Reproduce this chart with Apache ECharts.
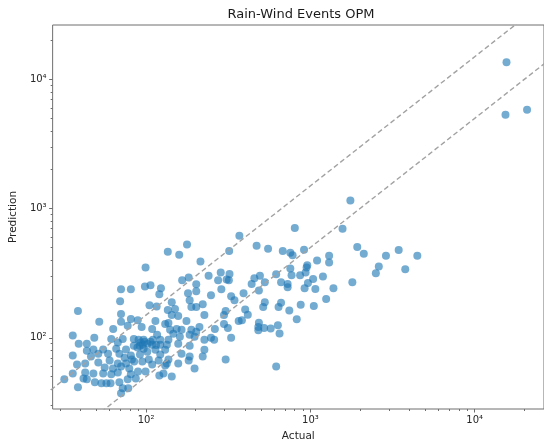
<!DOCTYPE html>
<html>
<head>
<meta charset="utf-8">
<script src="https://cdn.jsdelivr.net/npm/echarts@6/dist/echarts.min.js"></script>
<style>
html,body{margin:0;padding:0;background:#fff;}
#chart{width:544px;height:447px;}
</style>
</head>
<body>
<div id="chart"></div>
<script>
// ---- data ----
const actual = [
  69.5,38.5,70.4,51.9,70.4,80.8,77.3,89.0,94.0,63.1,
  35.8,43.6,48.4,38.9,61.4,67.3,72.1,84.2,92.7,96.6,
  102,43.6,47.8,54.8,65.8,75.5,88.6,35.8,46.2,51.2,
  58.7,68.8,80.8,91.8,101.7,42.6,51.2,60.0,67.3,75.5,
  84.6,94.9,38.0,56.0,62.9,70.4,79.0,35.8,42.6,47.8,
  54.8,61.4,67.3,80.8,89.3,31.8,41.6,48.8,53.5,57.4,
  60.8,68.8,77.3,86.6,38.5,43.6,72.1,77.9,70.4,
  91.5,96.6,106.4,84.2,97.8,95.5,90,110,115,74,82,
  143.3,184.2,188.6,221.2,202,135.6,150,156.9,143.3,226.4,
  305,298,345.1,366,114,130.7,136.8,176.1,298,314.7,
  108.9,140,153.5,164.4,188.6,202,211.3,262.2,116.7,146.5,
  160.6,184.2,197.3,226.4,248.3,259.7,329.3,122,136.8,108.9,
  122,133.8,156.9,184.2,114,130.7,226.4,164.4,184.2,221.2,
  122,103.9,119.2,136.8,156.9,181.7,305,108.9,130.7,133.8,
  99.3,120.4,127.6,143.3,197.3,
  99.3,98.4,106.4,70.4,80.8,104.9,116,369.6,177.5,
  135.6,159.1,320.4,214.3,284.7,309.2,319.1,274.4,240.2,181.7,
  165.8,202,123.2,287.1,180,202,120.4,248.3,329.3,392,322,
  803.9,470.6,552.6,679,754.8,779,914.7,1300,1300,1098,
  957,948,754.8,768,866,935,1192,1039,966,922,
  1072,1381,619,493,456,528,439,663,727,727,
  486,528,516,663,640,873,1049,1247,744,826,
  401,416,383,486,482,482,523,573.5,634,649,
  619,
  1751,1569,1928,2113,2883,3446,4474,2608,2502,3778,1800,
  15610,15390,20820
];
const prediction = [
  192,161,153,133,133,140,124,137,121,117,
  104,90,100,90,98,92,98,98,92,96.5,
  90,79.5,81,81,82.4,81,84,72.8,71.5,75.4,
  75.4,75.4,72.8,74.1,78.1,63.2,64.3,66.6,63.2,63.2,
  65.5,65.5,62.1,58.9,57.9,59.9,57.9,53.0,53.9,53.0,
  53.0,52.1,53.9,52.1,54.9,47.7,48.5,45.2,44.4,44.4,
  44.4,45.2,47.7,48.5,41.4,47.7,40.7,40.7,37.2,
  86.8,82.4,93.2,86.8,93.2,88.4,96.5,96.5,88,70,68,
  188.7,195.6,172.8,182.2,172.8,163.9,166.8,147.5,150.1,150.1,
  161,150.1,195.6,135,135,128,130.3,135,128,119.3,
  117.2,115.2,117.2,115.2,115.2,111.2,121.4,117.2,105.4,107.3,
  101.8,105.4,101.8,96.5,100,96.5,100,96.5,96.5,88.4,
  88.4,88.4,89.9,86.8,80.9,80.9,80.9,75.4,71.5,71.5,
  74.1,67.8,66.6,67.8,63.2,66.6,67.8,62.1,61,63.2,
  54.9,51.1,53,50.2,57.9,
  350,249,254.8,237.4,237.4,179,175,616,528,
  464,440,470,389,320.5,283.3,278.3,278.3,302,293.5,
  278.3,259.3,241.7,237.4,221.2,229.2,217.4,213.6,209.9,221.2,312,
  709,516,489.5,470,456,435,481,432.5,382,396,
  364.5,350,344,305.6,305.6,320.5,298.7,284.8,265.3,241.7,
  238.7,241.7,311,302.4,288.4,268.6,260.7,268.6,260.7,246,
  232,188.7,172.8,186.4,172.8,180,175.9,200,163,139,
  165.9,150.9,136.6,131,121.4,114.6,119.3,117.8,125.1,107.9,
  59.9,
  1156,700,504,448,432.5,478,432.5,356,316.5,339.6,268.6,
  13570,5325,5818
];
const majorTicks = [100, 1000, 10000];
const minorTicks = [30,40,50,60,70,80,90,200,300,400,500,600,700,800,900,
                    2000,3000,4000,5000,6000,7000,8000,9000,20000];
const refRatios = [1.5, 0.5];          // dashed guide lines y = r * x
const refSpan = [10, 100000];          // x extent of the guide lines (clipped)
const xRange = [27, 26400];
const yRange = [28.1, 26400];

// ---- chart ----
const sup = {'0':'⁰','1':'¹','2':'²','3':'³','4':'⁴','5':'⁵'};
const fmt = v => '10' + String(Math.round(Math.log10(v))).split('').map(c => sup[c]).join('');

const points = actual.map((a, i) => [a, prediction[i]]);
const frameColor = '#6e6e6e';
const font = 'DejaVu Sans';

function mkAxis(isX, major) {
  const r = isX ? xRange : yRange;
  const ax = {
    type: 'log', logBase: 10, min: r[0], max: r[1],
    position: isX ? 'bottom' : 'left',
    splitLine: {show: false},
    axisLine: {show: false},
    axisTick: {show: true, inside: false, length: major ? 3.5 : 2,
               customValues: major ? majorTicks : minorTicks,
               lineStyle: {color: frameColor, width: 1}},
    axisLabel: major ? {show: true, customValues: majorTicks, formatter: fmt,
               fontSize: 10, color: '#262626', fontFamily: font, margin: 6}
             : {show: false}
  };
  if (major) {
    ax.name = isX ? 'Actual' : 'Prediction';
    ax.nameLocation = 'middle';
    ax.nameGap = isX ? 22 : 29;
    ax.nameTextStyle = {fontSize: 10.5, color: '#262626', fontFamily: font};
  }
  return ax;
}

const series = [{
  type: 'scatter',
  xAxisIndex: 0, yAxisIndex: 0,
  data: points,
  symbol: 'circle',
  symbolSize: 8,
  itemStyle: {color: '#1f77b4', opacity: 0.62},
  silent: true,
  z: 2
}];
refRatios.forEach(r => {
  series.push({
    type: 'line',
    xAxisIndex: 0, yAxisIndex: 0,
    data: refSpan.map(x => [x, x * r]),
    symbol: 'none',
    clip: true,
    silent: true,
    lineStyle: {color: '#a2a2a2', width: 1.4, type: [5, 3]},
    z: 3
  });
});

const chart = echarts.init(document.getElementById('chart'), null, {renderer: 'canvas'});
chart.setOption({
  animation: false,
  backgroundColor: '#ffffff',
  textStyle: {fontFamily: font},
  title: {
    text: 'Rain-Wind Events OPM',
    left: 296, textAlign: 'center', top: 3,
    textStyle: {fontSize: 13, fontWeight: 'normal', color: '#1a1a1a', fontFamily: font}
  },
  grid: {
    left: 45, top: 25, right: -3, bottom: 34,
    show: true, borderColor: frameColor, borderWidth: 1, backgroundColor: 'transparent'
  },
  xAxis: [mkAxis(true, true), mkAxis(true, false)],
  yAxis: [mkAxis(false, true), mkAxis(false, false)],
  series: series
});
</script>
</body>
</html>
